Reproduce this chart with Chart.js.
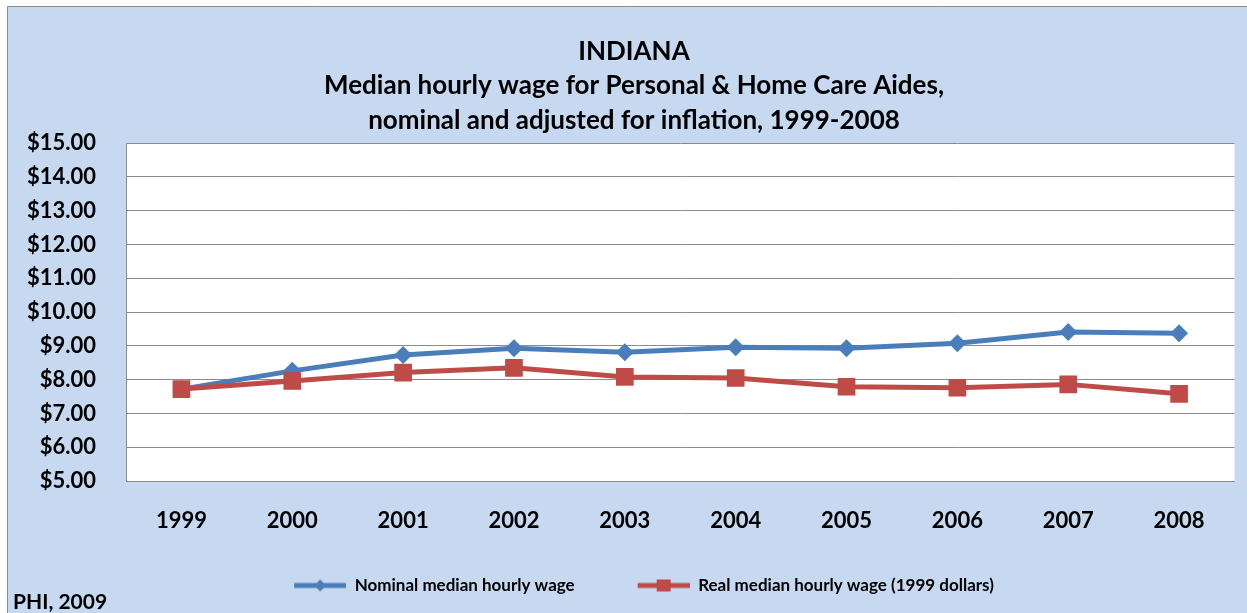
<!DOCTYPE html>
<html>
<head>
<meta charset="utf-8">
<script src="https://cdn.jsdelivr.net/npm/chart.js@4.4.1/dist/chart.umd.min.js"></script>
<style>
    html, body { margin: 0; padding: 0; background: #fff; }
    #wrap { width: 1247px; height: 613px; position: relative; }
</style>
</head>
<body>
<div id="wrap"><canvas id="wageChart"></canvas></div>
<script>
// data
var years = ['1999', '2000', '2001', '2002', '2003', '2004', '2005', '2006', '2007', '2008'];
var nominalWage = [7.72, 8.26, 8.73, 8.93, 8.81, 8.96, 8.93, 9.08, 9.41, 9.37];
var realWage = [7.72, 7.96, 8.21, 8.35, 8.08, 8.05, 7.79, 7.76, 7.86, 7.58];
var seriesNames = ['Nominal median hourly wage', 'Real median hourly wage (1999 dollars)'];
var titleLines = ['INDIANA', 'Median hourly wage for Personal & Home Care Aides,', 'nominal and adjusted for inflation, 1999-2008'];
var sourceNote = 'PHI, 2009';
var yMin = 5, yMax = 15, yStep = 1;

var blue = '#4A7EBB';
var red = '#BE4B48';
var gridGrey = '#8C8C8C';
var fontName = 'Lato';

// little line+marker pictures for the legend, like excel does
var makeLegendIcon = function (colour, marker) {
    var blank = 20;
    var c = document.createElement('canvas');
    c.width = blank + 52;
    c.height = 20;
    var g = c.getContext('2d');
    g.strokeStyle = colour;
    g.lineWidth = 5;
    g.beginPath();
    g.moveTo(blank, 10);
    g.lineTo(blank + 52, 10);
    g.stroke();
    g.fillStyle = colour;
    var cx = blank + 26;
    if (marker === 'diamond') {
        g.beginPath();
        g.moveTo(cx, 4);
        g.lineTo(cx + 6, 10);
        g.lineTo(cx, 16);
        g.lineTo(cx - 6, 10);
        g.closePath();
        g.fill();
    } else {
        g.fillRect(cx - 7, 4, 14, 12);
    }
    return c;
};

var legendIcons = [makeLegendIcon(blue, 'diamond'), makeLegendIcon(red, 'square')];

var backgroundPlugin = {
    id: 'background',
    beforeDraw: function (chart) {
        var ctx = chart.ctx;
        var w = chart.width, h = chart.height;
        var area = chart.chartArea;
        ctx.save();
        ctx.fillStyle = '#ffffff';
        ctx.fillRect(0, 0, w, h);
        ctx.fillStyle = '#C6D9F1';
        ctx.fillRect(7, 6, w - 7, h - 6);
        ctx.strokeStyle = gridGrey;
        ctx.lineWidth = 1;
        ctx.beginPath();
        ctx.moveTo(7.5, h);
        ctx.lineTo(7.5, 6.5);
        ctx.lineTo(w, 6.5);
        ctx.stroke();
        ctx.fillStyle = '#ffffff';
        ctx.fillRect(area.left, area.top, area.right - area.left, area.bottom - area.top);
        ctx.restore();
    },
    afterDraw: function (chart) {
        var ctx = chart.ctx;
        ctx.save();
        ctx.fillStyle = '#000';
        ctx.font = 'bold 21px ' + fontName;
        ctx.textAlign = 'left';
        ctx.textBaseline = 'middle';
        ctx.fillText(sourceNote, 13, 602);
        ctx.restore();
    }
};

var ctx = document.getElementById('wageChart');
var wageChart = new Chart(ctx, {
    type: 'line',
    data: {
        labels: years,
        datasets: [
            {
                label: seriesNames[0],
                data: nominalWage,
                borderColor: blue,
                backgroundColor: blue,
                borderWidth: 5,
                pointStyle: 'rectRot',
                pointRadius: 9,
                pointBorderWidth: 0,
                pointBackgroundColor: blue,
                tension: 0,
                order: 1
            },
            {
                label: seriesNames[1],
                data: realWage,
                borderColor: red,
                backgroundColor: red,
                borderWidth: 5,
                pointStyle: 'rect',
                pointRadius: 12.5,
                pointBorderWidth: 0,
                pointBackgroundColor: red,
                tension: 0,
                order: 0
            }
        ]
    },
    options: {
        responsive: true,
        maintainAspectRatio: false,
        devicePixelRatio: 1,
        animation: false,
        layout: {
            padding: { left: 26, right: 5, top: 35, bottom: 9 }
        },
        plugins: {
            title: {
                display: true,
                text: titleLines,
                color: '#000',
                font: { family: fontName, size: 26, weight: 'bold', lineHeight: 1.31 },
                padding: { top: 0, bottom: 6 }
            },
            legend: {
                position: 'bottom',
                labels: {
                    color: '#000',
                    font: { family: fontName, size: 17, weight: 'bold' },
                    usePointStyle: true,
                    pointStyleWidth: 72,
                    padding: 43,
                    generateLabels: function (chart) {
                        return chart.data.datasets.map(function (ds, i) {
                            return {
                                text: ds.label,
                                pointStyle: legendIcons[i],
                                fillStyle: ds.borderColor,
                                strokeStyle: ds.borderColor,
                                lineWidth: 0,
                                fontColor: '#000',
                                hidden: false,
                                datasetIndex: i
                            };
                        });
                    }
                }
            },
            tooltip: { enabled: false }
        },
        scales: {
            x: {
                offset: true,
                grid: { display: false, drawTicks: false },
                border: { display: true, color: gridGrey, width: 1 },
                ticks: {
                    color: '#000',
                    padding: 27,
                    font: { family: fontName, size: 22, weight: 'bold' }
                },
                afterFit: function (scale) {
                    scale.height = 53;
                }
            },
            y: {
                min: yMin,
                max: yMax,
                grid: { color: gridGrey, lineWidth: 1, drawTicks: false },
                border: { display: true, color: gridGrey, width: 1 },
                ticks: {
                    stepSize: yStep,
                    color: '#000',
                    padding: 30,
                    font: { family: fontName, size: 22, weight: 'bold' },
                    callback: function (value) {
                        return '$' + Number(value).toFixed(2);
                    }
                },
                afterFit: function (scale) {
                    scale.width = 100;
                }
            }
        }
    },
    plugins: [backgroundPlugin]
});
</script>
</body>
</html>
